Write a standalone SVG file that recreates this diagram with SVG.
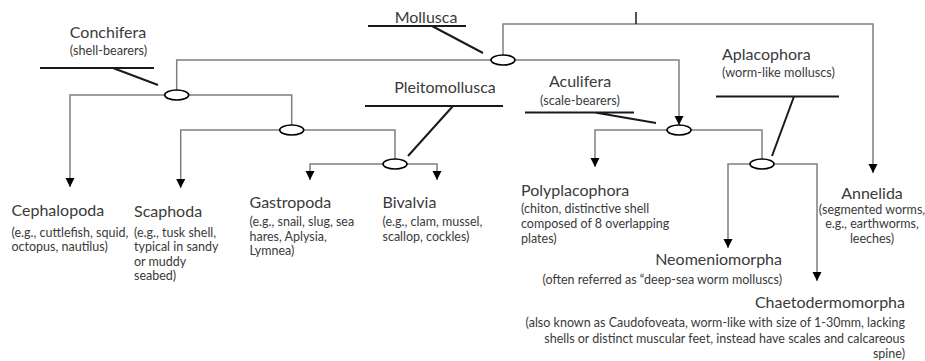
<svg xmlns="http://www.w3.org/2000/svg" width="925" height="361" viewBox="0 0 925 361">
<defs>
<marker id="ah" markerUnits="userSpaceOnUse" markerWidth="9.5" markerHeight="9.5" viewBox="0 0 10 10" refX="10" refY="5" orient="auto">
<path d="M0,0 L10,5 L0,10 Z" fill="#000"/>
</marker>
<style>
.c{fill:none;stroke:#7f7f7f;stroke-width:1.5}
.a{marker-end:url(#ah)}
.u{fill:none;stroke:#1a1a1a;stroke-width:2}
.e{fill:#fff;stroke:#000;stroke-width:1.6}
text{font-family:Lato,"Liberation Sans",sans-serif;fill:#3a3a3a}
.t{font-size:16px}
.s{font-size:12.7px}
.d{font-size:12.5px}
.m{text-anchor:middle}
.r{text-anchor:end}
</style>
</defs>
<rect width="925" height="361" fill="#fff"/>
<g id="connectors">
<path class="c" d="M176.7,90 V60 H491"/>
<path class="c a" d="M515,60 H679 V125"/>
<path class="c a" d="M503,55 V24 H873 V173"/>
<path d="M636,12 V24" stroke="#1a1a1a" stroke-width="1.5"/>
<path class="c a" d="M164.7,95 H70 V187"/>
<path class="c" d="M188.7,95 H291.7 V125"/>
<path class="c a" d="M279.7,130 H180.7 V188"/>
<path class="c" d="M303.7,130 H395 V159"/>
<path class="c a" d="M383,164 H310 V180"/>
<path class="c a" d="M407,164 H437 V180"/>
<path class="c a" d="M667,130 H595 V167"/>
<path class="c" d="M691,130 H762 V159"/>
<path class="c a" d="M750,164 H728 V248"/>
<path class="c a" d="M774,164 H817 V281"/>
</g>
<g id="mollusca">
<text class="t m" x="426" y="23">Mollusca</text>
<path class="u" d="M368,26 H466 M432,26 L483,53"/>
<ellipse class="e" cx="503" cy="60" rx="12" ry="5"/>
</g>
<g id="conchifera">
<text class="t m" x="108" y="38">Conchifera</text>
<text class="s m" x="108.5" y="55">(shell-bearers)</text>
<path class="u" d="M40,68 H154 M113,68 L158,85"/>
<ellipse class="e" cx="176.7" cy="95" rx="12" ry="5"/>
</g>
<g id="node-scaphoda-split">
<ellipse class="e" cx="291.7" cy="130" rx="12" ry="5"/>
</g>
<g id="pleitomollusca">
<text class="t m" x="445" y="93">Pleitomollusca</text>
<path class="u" d="M365,106 H503 M453,106 L408,156"/>
<ellipse class="e" cx="395" cy="164" rx="12" ry="5"/>
</g>
<g id="aculifera">
<text class="t m" x="580" y="87">Aculifera</text>
<text class="s m" x="580" y="105">(scale-bearers)</text>
<path class="u" d="M525,112.5 H634 M595,112.5 L656,123"/>
<ellipse class="e" cx="679" cy="130" rx="12" ry="5"/>
</g>
<g id="aplacophora">
<text class="t" x="722" y="60">Aplacophora</text>
<text class="s" x="722" y="77">(worm-like molluscs)</text>
<path class="u" d="M716,96.5 H839 M794,96.5 L772,156"/>
<ellipse class="e" cx="762" cy="164" rx="12" ry="5"/>
</g>
<g id="cephalopoda">
<text class="t" x="11.5" y="216">Cephalopoda</text>
<text class="d" x="11.5" y="236.5">(e.g., cuttlefish, squid,</text>
<text class="d" x="11.5" y="251">octopus, nautilus)</text>
</g>
<g id="scaphoda">
<text class="t" x="134" y="217">Scaphoda</text>
<text class="d" x="134" y="236.5">(e.g., tusk shell,</text>
<text class="d" x="134" y="251">typical in sandy</text>
<text class="d" x="134" y="265.5">or muddy</text>
<text class="d" x="134" y="280">seabed)</text>
</g>
<g id="gastropoda">
<text class="t" x="249.5" y="208">Gastropoda</text>
<text class="d" x="249.5" y="226">(e.g., snail, slug, sea</text>
<text class="d" x="249.5" y="240.5">hares, Aplysia,</text>
<text class="d" x="249.5" y="255">Lymnea)</text>
</g>
<g id="bivalvia">
<text class="t" x="382.5" y="208">Bivalvia</text>
<text class="d" x="382.5" y="226">(e.g., clam, mussel,</text>
<text class="d" x="382.5" y="240.5">scallop, cockles)</text>
</g>
<g id="polyplacophora">
<text class="t" x="521" y="196">Polyplacophora</text>
<text class="d" x="521" y="213">(chiton, distinctive shell</text>
<text class="d" x="521" y="228">composed of 8 overlapping</text>
<text class="d" x="521" y="243">plates)</text>
</g>
<g id="annelida">
<text class="t m" x="872" y="199">Annelida</text>
<text class="d m" x="872" y="213.5">(segmented worms,</text>
<text class="d m" x="872" y="228">e.g., earthworms,</text>
<text class="d m" x="872" y="243">leeches)</text>
</g>
<g id="neomeniomorpha">
<text class="t r" x="782" y="265">Neomeniomorpha</text>
<text class="d r" x="782" y="283.5">(often referred as “deep-sea worm molluscs)</text>
</g>
<g id="chaetodermomorpha">
<text class="t r" x="905" y="308">Chaetodermomorpha</text>
<text class="d r" x="905" y="326.5">(also known as Caudofoveata, worm-like with size of 1-30mm, lacking</text>
<text class="d r" x="905" y="342.5">shells or distinct muscular feet, instead have scales and calcareous</text>
<text class="d r" x="905" y="358">spine)</text>
</g>
</svg>
